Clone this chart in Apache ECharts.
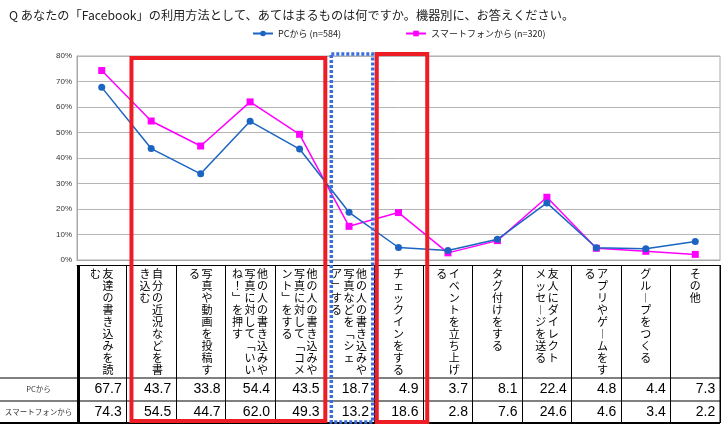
<!DOCTYPE html>
<html><head><meta charset="utf-8">
<script src="https://cdn.jsdelivr.net/npm/echarts@6/dist/echarts.min.js"></script>
<style>html,body{margin:0;padding:0;background:#fff}#c{width:728px;height:426px}</style>
</head><body><div id="c"></div>
<script>
// ---- data ----
const categories = [
  "友達の書き込みを読\nむ",
  "自分の近況などを書\nき込む",
  "写真や動画を投稿す\nる",
  "他の人の書き込みや\n写真に対して「いい\nね！」を押す",
  "他の人の書き込みや\n写真に対して「コメ\nント」をする",
  "他の人の書き込みや\n写真などを「シェ\nア」する",
  "チェックインをする",
  "イベントを立ち上げ\nる",
  "タグ付けをする",
  "友人にダイレクト\nメッセージを送る",
  "アプリやゲームをす\nる",
  "グループをつくる",
  "その他"
];
const pcValues = [67.7, 43.7, 33.8, 54.4, 43.5, 18.7, 4.9, 3.7, 8.1, 22.4, 4.8, 4.4, 7.3];
const spValues = [74.3, 54.5, 44.7, 62.0, 49.3, 13.2, 18.6, 2.8, 7.6, 24.6, 4.6, 3.4, 2.2];
const seriesNames = ["PCから (n=584)", "スマートフォンから (n=320)"];
const rowLabels = ["PCから", "スマートフォンから"];
const titleText = "Q あなたの「Facebook」の利用方法として、あてはまるものは何ですか。機器別に、お答えください。";
const yMin = 0, yMax = 80, yStep = 10;

// ---- helpers ----
const JP = '"Noto Sans CJK JP", "Noto Sans", sans-serif';
const NUM = '"Liberation Sans Narrow", "Liberation Sans", Arial, sans-serif';
const VERT = {'「': '﹁', '」': '﹂', 'ー': '︱'};
function vertical(label) {
  const cols = label.split('\n').map(s => Array.from(s).map(ch => VERT[ch] || ch));
  const n = Math.max(...cols.map(c => c.length));
  const rows = [];
  for (let i = 0; i < n; i++) {
    rows.push(cols.slice().reverse().map(c => '{c|' + (c[i] || '　') + '}').join(''));
  }
  return rows.join('\n');
}
const PC_COLOR = '#1b64c2', SP_COLOR = '#ff00ff';
const HEAD_TOP = 5, HEAD_BOTTOM = 118, ROW1_BOTTOM = 141, TABLE_BOTTOM = 163;

const chart = echarts.init(document.getElementById('c'), null, {renderer: 'canvas'});
const valueAxis = (vals, offset) => ({
  type: 'category', data: categories, position: 'bottom', offset: offset, gridIndex: 0,
  axisLine: {show: false}, axisTick: {show: false}, splitLine: {show: false},
  axisLabel: {
    interval: 0, margin: 4,
    formatter: (v, i) => '{v|' + vals[i].toFixed(1) + '}',
    rich: {v: {width: 40, align: 'right', fontSize: 14, lineHeight: 15, fontFamily: NUM, color: '#000'}}
  }
});

chart.setOption({
  animation: false,
  backgroundColor: '#fff',
  title: {
    text: titleText, left: 4, top: 4,
    textStyle: {fontSize: 12.2, fontWeight: 'normal', color: '#222', fontFamily: JP}
  },
  legend: {
    data: seriesNames, left: 247, top: 24, itemWidth: 20, itemHeight: 7, itemGap: 64,
    textStyle: {fontSize: 9, color: '#222', fontFamily: JP}
  },
  grid: {left: 77, right: 8, top: 56, bottom: 166, show: true, borderColor: '#a8a8a8', borderWidth: 1, containLabel: false},
  xAxis: [
    {
      type: 'category', data: categories, boundaryGap: true,
      axisLine: {show: true, lineStyle: {color: '#a8a8a8'}},
      axisTick: {show: false},
      axisLabel: {
        interval: 0, margin: 8, formatter: v => vertical(v),
        align: 'center', verticalAlign: 'top',
        rich: {c: {width: 12.5, align: 'center', fontSize: 11, lineHeight: 12, color: '#000', fontFamily: JP}}
      }
    },
    {
      type: 'category', data: categories, position: 'bottom', offset: HEAD_TOP,
      axisLine: {show: true, lineStyle: {color: '#000', width: 1}},
      axisTick: {show: true, interval: 0, length: TABLE_BOTTOM - HEAD_TOP, lineStyle: {color: '#000', width: 1}},
      axisLabel: {show: false}
    },
    valueAxis(pcValues, HEAD_BOTTOM),
    valueAxis(spValues, ROW1_BOTTOM)
  ],
  yAxis: {
    type: 'value', min: yMin, max: yMax, interval: yStep,
    axisLine: {show: true, lineStyle: {color: '#a8a8a8'}},
    axisTick: {show: false},
    splitLine: {lineStyle: {color: '#b4b4b4'}},
    axisLabel: {formatter: '{value}%', fontSize: 8, color: '#333', margin: 5, fontFamily: NUM}
  },
  series: [
    {
      name: seriesNames[0], type: 'line', data: pcValues, xAxisIndex: 0,
      symbol: 'circle', symbolSize: 7, color: PC_COLOR,
      lineStyle: {width: 1.5, color: PC_COLOR}, itemStyle: {color: PC_COLOR}, z: 3
    },
    {
      name: seriesNames[1], type: 'line', data: spValues, xAxisIndex: 0,
      symbol: 'rect', symbolSize: 7, color: SP_COLOR,
      lineStyle: {width: 1.5, color: SP_COLOR}, itemStyle: {color: SP_COLOR}, z: 2
    }
  ]
});

// ---- table frame & highlight boxes derived from the axes ----
const c0 = chart.convertToPixel({xAxisIndex: 0}, 0);
const c1 = chart.convertToPixel({xAxisIndex: 0}, 1);
const step = c1 - c0;
const bx = k => c0 - step / 2 + k * step;
const y0 = chart.convertToPixel({yAxisIndex: 0}, yMin);
const yTop = chart.convertToPixel({yAxisIndex: 0}, yMax);
const xR = bx(categories.length);
const line = (x1, y1, x2, y2, w) => ({type: 'line', shape: {x1, y1, x2, y2}, style: {stroke: '#000', lineWidth: w}, z: 50});
const tb = y0 + TABLE_BOTTOM;
const rowText = (t, y) => ({type: 'text', x: bx(0) / 2, y: y,
  style: {text: t, fontSize: 7.5, fill: '#333', fontFamily: JP, align: 'center', verticalAlign: 'middle'}, z: 50});
const elements = [
  line(0, y0 + HEAD_BOTTOM, xR, y0 + HEAD_BOTTOM, 1),
  line(0, y0 + ROW1_BOTTOM, xR, y0 + ROW1_BOTTOM, 1),
  line(0, tb, xR, tb, 2),
  line(bx(0) + 2, y0 + HEAD_TOP, bx(0) + 2, tb, 2),
  line(xR, y0 + HEAD_TOP, xR, tb, 1),
  rowText(rowLabels[0], y0 + (HEAD_BOTTOM + ROW1_BOTTOM) / 2),
  rowText(rowLabels[1], y0 + (ROW1_BOTTOM + TABLE_BOTTOM) / 2),
  {type: 'rect', shape: {x: bx(1) + 5, y: yTop + 2, width: bx(5) - bx(1) - 4, height: tb - 2 - yTop - 2},
    style: {fill: 'none', stroke: '#ee1c24', lineWidth: 4}, z: 60},
  {type: 'rect', shape: {x: bx(5) + 7, y: yTop - 2, width: bx(6) - bx(5) - 8, height: tb - 1 - yTop + 2},
    style: {fill: 'none', stroke: '#3b6fe0', lineWidth: 3.5, lineDash: [3, 2]}, z: 61},
  {type: 'rect', shape: {x: bx(6) + 3, y: yTop - 2, width: bx(7) - bx(6) + 1, height: tb - 1 - yTop + 2},
    style: {fill: 'none', stroke: '#ee1c24', lineWidth: 4}, z: 60}
];
chart.setOption({graphic: {elements}});
</script>
</body></html>
